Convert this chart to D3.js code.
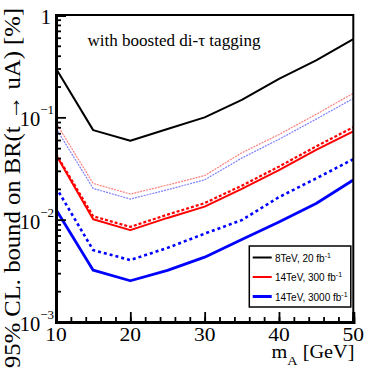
<!DOCTYPE html>
<html><head><meta charset="utf-8">
<script src="https://cdn.jsdelivr.net/npm/d3@7"></script>
<style>html,body{margin:0;padding:0;background:#fff;}svg{display:block;}</style>
</head><body>
<script>
// ---- data ----
const massA = [10, 15, 20, 25, 30, 35, 40, 45, 50];
const bound8TeV20 = [0.30, 0.075, 0.059, 0.077, 0.100, 0.148, 0.238, 0.36, 0.58];
const bound14TeV300 = [0.043, 0.0101, 0.0079, 0.0104, 0.0134, 0.020, 0.0305, 0.048, 0.073];
const bound14TeV300Alt = [0.044, 0.0108, 0.0085, 0.0112, 0.0145, 0.0215, 0.033, 0.052, 0.080];
const bound14TeV300Thin = [0.0886, 0.0226, 0.0178, 0.0218, 0.027, 0.045, 0.068, 0.107, 0.172];
const bound14TeV3000 = [0.0126, 0.00321, 0.00253, 0.0032, 0.0043, 0.0064, 0.0095, 0.0144, 0.0244];
const bound14TeV3000Alt = [0.0207, 0.00504, 0.00403, 0.0053, 0.0073, 0.0099, 0.0166, 0.0253, 0.039];
const bound14TeV3000Thin = [0.078, 0.0202, 0.0159, 0.0196, 0.0245, 0.040, 0.061, 0.096, 0.153];
const xMajorTicks = [10, 20, 30, 40, 50];
const yMajorTicks = [1e-3, 1e-2, 1e-1, 1];
const yTickLabels = [["10", "\u22123"], ["10", "\u22122"], ["10", "\u22121"], ["1", ""]];
const legendLabels = ["8TeV, 20 fb", "14TeV, 300 fb", "14TeV, 3000 fb"];

const W = 373, H = 374;
const svg = d3.select("body").append("svg").attr("width", W).attr("height", H);
svg.append("rect").attr("width", W).attr("height", H).attr("fill", "#fff");

const x = d3.scaleLinear().domain([10, 50]).range([56, 353.3]);
const y = d3.scaleLog().domain([1e-3, 1]).range([322, 15]);

const serif = "'Liberation Serif','Times New Roman',serif";
const sans = "'Liberation Sans',Arial,sans-serif";

// series
const series = [
  {v: bound14TeV300Thin, c: "#ff7f7f", w: 1.2, d: "2,1"},
  {v: bound14TeV3000Thin, c: "#7f7fff", w: 1.2, d: "2,1"},
  {v: bound8TeV20, c: "#000", w: 2, d: null},
  {v: bound14TeV300Alt, c: "#ff0000", w: 2.2, d: "3,2"},
  {v: bound14TeV300, c: "#ff0000", w: 2, d: null},
  {v: bound14TeV3000Alt, c: "#0000ff", w: 2.6, d: "3,3"},
  {v: bound14TeV3000, c: "#0000ff", w: 2.8, d: null}
];
const line = d3.line().x((d, i) => x(massA[i])).y(d => y(d));
series.forEach(s => {
  svg.append("path").datum(s.v).attr("d", line).attr("fill", "none")
    .attr("stroke", s.c).attr("stroke-width", s.w)
    .attr("stroke-dasharray", s.d).attr("stroke-linejoin", "round");
});

// frame
svg.append("rect").attr("x", 56).attr("y", 15).attr("width", 353.3 - 56).attr("height", 322 - 15)
  .attr("fill", "none").attr("stroke", "#000").attr("stroke-width", 2);

// x axis
const gx = svg.append("g").attr("transform", "translate(0,322)");
gx.call(d3.axisBottom(x).tickValues(d3.range(10, 51, 2)).tickSize(-5).tickFormat(""));
gx.call(g => g.append("g").call(d3.axisBottom(x).tickValues(xMajorTicks).tickSize(-10).tickFormat("")));
gx.selectAll(".domain").attr("stroke-width", 3);
gx.selectAll(".tick line").attr("stroke-width", 1.8);
xMajorTicks.forEach(t => {
  svg.append("text").attr("x", x(t)).attr("y", 341).attr("text-anchor", "middle")
    .attr("font-family", serif).attr("font-size", 19)
    .attr("textLength", 21.5).attr("lengthAdjust", "spacingAndGlyphs").text(t);
});

// y axis
const minors = [];
[1e-3, 1e-2, 1e-1].forEach(dd => { for (let k = 2; k <= 9; k++) minors.push(dd * k); });
const gy = svg.append("g").attr("transform", "translate(56,0)");
gy.call(d3.axisLeft(y).tickValues(minors).tickSize(-5).tickFormat(""));
gy.call(g => g.append("g").call(d3.axisLeft(y).tickValues(yMajorTicks).tickSize(-10).tickFormat("")));
gy.selectAll(".domain").attr("stroke-width", 3);
gy.selectAll(".tick line").attr("stroke-width", 1.8);
yMajorTicks.forEach((t, i) => {
  const lab = yTickLabels[i];
  const tx = svg.append("text").attr("x", lab[1] ? 54 : 51).attr("y", y(t) + 9).attr("text-anchor", "end")
    .attr("font-family", serif).attr("font-size", 20.5);
  tx.append("tspan").text(lab[0]);
  if (lab[1]) tx.append("tspan").attr("font-size", 13).attr("dy", -12).text(lab[1]);
});

// titles
svg.append("text").attr("x", 87.5).attr("y", 46).attr("font-family", serif).attr("font-size", 16.5)
  .attr("textLength", 173).attr("lengthAdjust", "spacingAndGlyphs").text("with boosted di-\u03c4 tagging");

const xt = svg.append("text").attr("x", 271.5).attr("y", 357.5).attr("font-family", serif).attr("font-size", 18.5)
  .attr("textLength", 83).attr("lengthAdjust", "spacingAndGlyphs");
xt.append("tspan").text("m");
xt.append("tspan").attr("font-size", 13).attr("dy", 7).text("A");
xt.append("tspan").attr("dy", -7).text(" [GeV]");

svg.append("text").attr("transform", "translate(19.5,188) rotate(-90)").attr("text-anchor", "middle")
  .attr("font-family", serif).attr("font-size", 23)
  .attr("textLength", 360).attr("lengthAdjust", "spacingAndGlyphs")
  .text("95% CL. bound on BR(t \u2192 uA) [%]");

// legend
const lg = svg.append("g");
lg.append("rect").attr("x", 249.3).attr("y", 246).attr("width", 101.5).attr("height", 61)
  .attr("fill", "#fff").attr("stroke", "#000").attr("stroke-width", 1.5);
const legColors = ["#000", "#ff0000", "#0000ff"];
const legWidths = [2, 2, 3];
const legY = [257.5, 277, 296.5];
legendLabels.forEach((l, i) => {
  lg.append("line").attr("x1", 252.7).attr("x2", 271.7).attr("y1", legY[i]).attr("y2", legY[i])
    .attr("stroke", legColors[i]).attr("stroke-width", legWidths[i]);
  const t = lg.append("text").attr("x", 275).attr("y", legY[i] + 4).attr("font-family", sans).attr("font-size", 10);
  t.append("tspan").text(l);
  t.append("tspan").attr("font-size", 7).attr("dy", -4).text("-1");
});
</script>
</body></html>
